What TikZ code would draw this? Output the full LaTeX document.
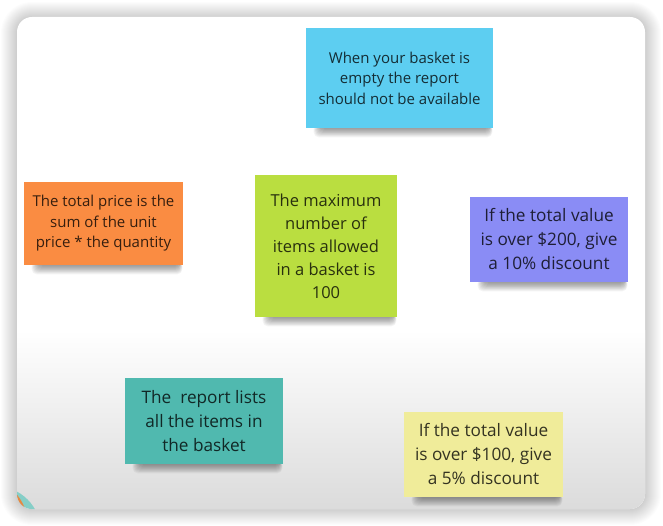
\documentclass[tikz,border=0pt]{standalone}
\usepackage{fontspec}
\setmainfont{Open Sans}
\usetikzlibrary{calc}
\pgfdeclarelayer{back}
\pgfdeclarelayer{shad}
\pgfsetlayers{back,shad,main}
\definecolor{nblue}{HTML}{5DCEF1}
\definecolor{norange}{HTML}{FA8C42}
\definecolor{ngreen}{HTML}{BADE40}
\definecolor{npurple}{HTML}{8A8CF5}
\definecolor{nteal}{HTML}{50B9AF}
\definecolor{nyellow}{HTML}{F0EC9A}
\tikzset{
  note/.style={inner sep=0pt, align=center, text=black, text opacity=0.78},
  small/.style={font=\fontsize{15}{20.5}\selectfont},
  mid/.style={font=\fontsize{16.5}{23}\selectfont},
  big/.style={font=\fontsize{17.2}{24}\selectfont},
}
\newcommand\nshadow[1]{%
  \begin{pgfonlayer}{shad}
  \foreach \k in {0,...,9}{%
    \fill[black,opacity=0.045,rounded corners=5pt]
      ($(#1.south west)+(15-\k*0.8,-4)$) rectangle ($(#1.south east)+(-4+\k*0.35,1+\k*0.9)$);}
  \end{pgfonlayer}}
\begin{document}
\begin{tikzpicture}[x=1pt,y=-1pt]
\useasboundingbox (0,0) rectangle (663,526);
\begin{pgfonlayer}{back}
  \fill[white] (0,0) rectangle (663,526);
  \foreach \k in {1,...,16}{%
    \fill[black,opacity=0.012,rounded corners=15pt+\k pt] (17-\k,17-\k+1) rectangle (645+\k,509+\k);}
  \fill[white,rounded corners=15pt] (17,17) rectangle (645,509);
  \begin{scope}
    \clip[rounded corners=15pt] (17,17) rectangle (645,509);
    \shade[top color=white,bottom color=black!14] (17,330) rectangle (645,509);
    \fill[nteal!70!white] (-5,532) circle (46);
    \fill[norange!70!brown] (-15,522) circle (42);
  \end{scope}
\end{pgfonlayer}

\node[note,small,fill=nblue,minimum width=187pt,minimum height=100pt] (blue) at (399.5,78)
  {When your basket is\\empty the report\\should not be available};
\node[note,small,fill=norange,minimum width=159pt,minimum height=83pt] (orange) at (103.5,223.5)
  {The total price is the\\sum of the unit\\price * the quantity};
\node[note,mid,fill=ngreen,minimum width=142pt,minimum height=142pt] (green) at (326,246)
  {The maximum\\number of\\items allowed\\in a basket is\\100};
\node[note,big,fill=npurple,minimum width=158pt,minimum height=85pt] (purple) at (549,239.5)
  {If the total value\\is over \$200, give\\a 10\% discount};
\node[note,big,fill=nteal,minimum width=158pt,minimum height=86pt] (teal) at (204,421)
  {The\ \ report lists\\all the items in\\the basket};
\node[note,big,fill=nyellow,minimum width=159pt,minimum height=85pt] (yellow) at (483.5,454.5)
  {If the total value\\is over \$100, give\\a 5\% discount};

\nshadow{blue}
\nshadow{orange}
\nshadow{green}
\nshadow{purple}
\nshadow{teal}
\nshadow{yellow}
\end{tikzpicture}
\end{document}
